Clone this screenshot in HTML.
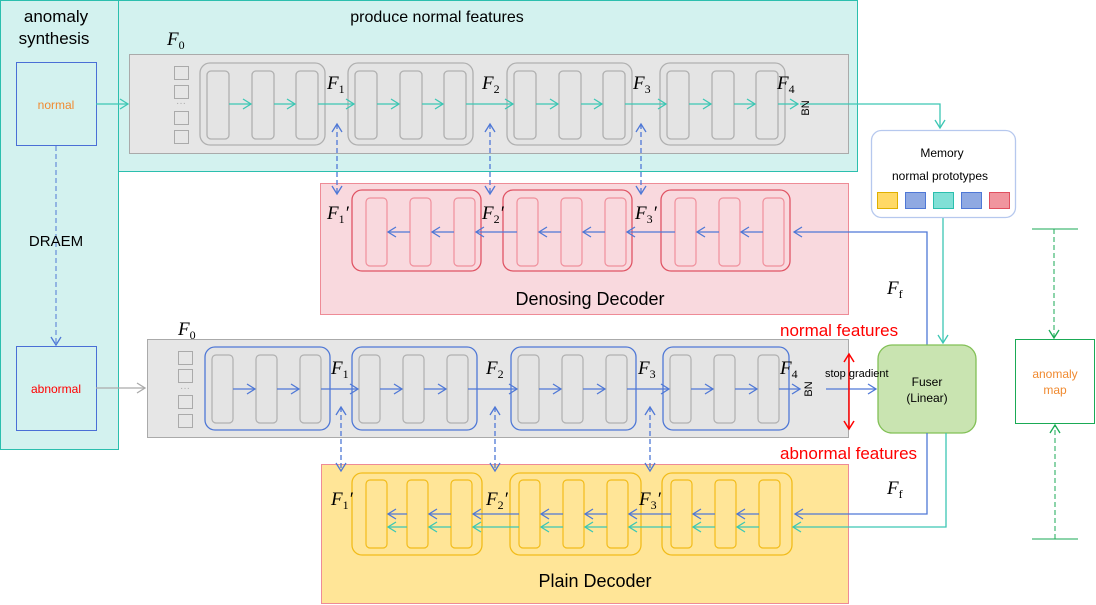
<!DOCTYPE html>
<html><head><meta charset="utf-8"><style>
body{margin:0;background:#fff}
svg{display:block;font-family:"Liberation Sans",sans-serif}
.F{font-family:"Liberation Serif",serif;font-style:italic;font-size:19px}
.s{font-size:12px;font-style:normal}
</style></head><body>
<svg width="1096" height="605" viewBox="0 0 1096 605" xmlns="http://www.w3.org/2000/svg">
<defs>
<marker id="at" markerWidth="12" markerHeight="12" refX="10" refY="6" orient="auto" markerUnits="userSpaceOnUse"><path d="M2,1 L10,6 L2,11" fill="none" stroke="#3cc7b4" stroke-width="1.3"/></marker>
<marker id="ab" markerWidth="12" markerHeight="12" refX="10" refY="6" orient="auto" markerUnits="userSpaceOnUse"><path d="M2,1 L10,6 L2,11" fill="none" stroke="#4f78d6" stroke-width="1.3"/></marker>
<marker id="abr" markerWidth="12" markerHeight="12" refX="10" refY="6" orient="auto-start-reverse" markerUnits="userSpaceOnUse"><path d="M2,1 L10,6 L2,11" fill="none" stroke="#4f78d6" stroke-width="1.3"/></marker>
<marker id="ag" markerWidth="12" markerHeight="12" refX="10" refY="6" orient="auto" markerUnits="userSpaceOnUse"><path d="M2,1 L10,6 L2,11" fill="none" stroke="#aaa" stroke-width="1.3"/></marker>
<marker id="ar" markerWidth="12" markerHeight="12" refX="10" refY="6" orient="auto" markerUnits="userSpaceOnUse"><path d="M2,1 L10,6 L2,11" fill="none" stroke="#f00" stroke-width="1.5"/></marker>
<marker id="agr" markerWidth="12" markerHeight="12" refX="10" refY="6" orient="auto" markerUnits="userSpaceOnUse"><path d="M2,1 L10,6 L2,11" fill="none" stroke="#1aaa55" stroke-width="1.3"/></marker>
</defs>

<rect x="0.5" y="0.5" width="118" height="449" fill="#d3f2ef" stroke="#2bbfae"/>
<rect x="118.5" y="0.5" width="739" height="171" fill="#d3f2ef" stroke="#2bbfae"/>
<text x="56" y="22" font-size="17" text-anchor="middle">anomaly</text>
<text x="54" y="44" font-size="17" text-anchor="middle">synthesis</text>
<text x="437" y="22" font-size="16" text-anchor="middle">produce normal features</text>

<rect x="16.5" y="62.5" width="80" height="83" fill="none" stroke="#4a6fd6"/>
<text x="56" y="109" font-size="12" fill="#f08a30" text-anchor="middle">normal</text>
<rect x="16.5" y="346.5" width="80" height="84" fill="none" stroke="#4a6fd6"/>
<text x="56" y="393" font-size="12" fill="#f00" text-anchor="middle">abnormal</text>
<line x1="56" y1="146" x2="56" y2="345" stroke="#4f78d6" stroke-dasharray="5,3" marker-end="url(#ab)"/>
<text x="56" y="246" font-size="15" text-anchor="middle">DRAEM</text>

<rect x="129.5" y="54.5" width="719" height="99" fill="#e6e6e6" stroke="#aaa"/>
<text class="F" x="167" y="45">F<tspan class="s" dy="4">0</tspan></text>
<g fill="none" stroke="#aaa"><rect x="174.5" y="66.5" width="14" height="13"/><rect x="174.5" y="85.5" width="14" height="13"/><rect x="174.5" y="111.5" width="14" height="13"/><rect x="174.5" y="130.5" width="14" height="13"/></g>
<text x="181" y="106" font-size="10" fill="#aaa" text-anchor="middle">···</text>
<g fill="#e4e4e4" stroke="#b0b0b0" stroke-width="1.3">
<rect x="200" y="63" width="125" height="82" rx="10"/><rect x="207" y="71" width="22" height="68" rx="4"/><rect x="252" y="71" width="22" height="68" rx="4"/><rect x="296" y="71" width="22" height="68" rx="4"/>
<rect x="348" y="63" width="125" height="82" rx="10"/><rect x="355" y="71" width="22" height="68" rx="4"/><rect x="400" y="71" width="22" height="68" rx="4"/><rect x="444" y="71" width="22" height="68" rx="4"/>
<rect x="507" y="63" width="125" height="82" rx="10"/><rect x="514" y="71" width="22" height="68" rx="4"/><rect x="559" y="71" width="22" height="68" rx="4"/><rect x="603" y="71" width="22" height="68" rx="4"/>
<rect x="660" y="63" width="125" height="82" rx="10"/><rect x="667" y="71" width="22" height="68" rx="4"/><rect x="712" y="71" width="22" height="68" rx="4"/><rect x="756" y="71" width="22" height="68" rx="4"/>
</g>
<g stroke="#3cc7b4" stroke-width="1.3" fill="none">
<line x1="96" y1="104" x2="128" y2="104" marker-end="url(#at)"/>
<line x1="229" y1="104" x2="251" y2="104" marker-end="url(#at)"/><line x1="274" y1="104" x2="295" y2="104" marker-end="url(#at)"/><line x1="318" y1="104" x2="354" y2="104" marker-end="url(#at)"/>
<line x1="377" y1="104" x2="399" y2="104" marker-end="url(#at)"/><line x1="422" y1="104" x2="443" y2="104" marker-end="url(#at)"/><line x1="466" y1="104" x2="513" y2="104" marker-end="url(#at)"/>
<line x1="536" y1="104" x2="558" y2="104" marker-end="url(#at)"/><line x1="581" y1="104" x2="602" y2="104" marker-end="url(#at)"/><line x1="625" y1="104" x2="666" y2="104" marker-end="url(#at)"/>
<line x1="689" y1="104" x2="711" y2="104" marker-end="url(#at)"/><line x1="734" y1="104" x2="755" y2="104" marker-end="url(#at)"/><line x1="778" y1="104" x2="798" y2="104" marker-end="url(#at)"/>
<polyline points="800,104 940,104 940,128" marker-end="url(#at)"/>
<polyline points="943,217 943,343" marker-end="url(#at)"/>
</g>
<text x="809" y="108" font-size="11" transform="rotate(-90 809 108)" text-anchor="middle">BN</text>
<text class="F" x="327" y="89">F<tspan class="s" dy="4">1</tspan></text>
<text class="F" x="482" y="89">F<tspan class="s" dy="4">2</tspan></text>
<text class="F" x="633" y="89">F<tspan class="s" dy="4">3</tspan></text>
<text class="F" x="777" y="89">F<tspan class="s" dy="4">4</tspan></text>

<rect x="871.5" y="130.5" width="144" height="87" rx="10" fill="#fff" stroke="#b6c8ee" stroke-width="1.3"/>
<text x="942" y="157" font-size="12" text-anchor="middle">Memory</text>
<text x="940" y="180" font-size="12" text-anchor="middle">normal prototypes</text>
<rect x="877.5" y="192.5" width="20" height="16" fill="#ffd966" stroke="#e0b000"/>
<rect x="905.5" y="192.5" width="20" height="16" fill="#8fa9e2" stroke="#4f78d6"/>
<rect x="933.5" y="192.5" width="20" height="16" fill="#80e0d6" stroke="#2bbfae"/>
<rect x="961.5" y="192.5" width="20" height="16" fill="#8fa9e2" stroke="#4f78d6"/>
<rect x="989.5" y="192.5" width="20" height="16" fill="#f0959e" stroke="#e05060"/>

<rect x="320.5" y="183.5" width="528" height="131" fill="#f9d9de" stroke="#ee8b96"/>
<g fill="#f9d9de" stroke="#e05565" stroke-width="1.3"><rect x="352" y="190" width="129" height="81" rx="10"/><rect x="503" y="190" width="129" height="81" rx="10"/><rect x="661" y="190" width="129" height="81" rx="10"/></g>
<g fill="#f9d9de" stroke="#f0909c" stroke-width="1.2">
<rect x="366" y="198" width="21" height="68" rx="4"/><rect x="410" y="198" width="21" height="68" rx="4"/><rect x="454" y="198" width="21" height="68" rx="4"/>
<rect x="517" y="198" width="21" height="68" rx="4"/><rect x="561" y="198" width="21" height="68" rx="4"/><rect x="605" y="198" width="21" height="68" rx="4"/>
<rect x="675" y="198" width="21" height="68" rx="4"/><rect x="719" y="198" width="21" height="68" rx="4"/><rect x="763" y="198" width="21" height="68" rx="4"/>
</g>
<g stroke="#4f78d6" stroke-width="1.3" fill="none">
<polyline points="927,345 927,232 794,232" marker-end="url(#ab)"/>
<line x1="763" y1="232" x2="741" y2="232" marker-end="url(#ab)"/><line x1="719" y1="232" x2="697" y2="232" marker-end="url(#ab)"/><line x1="675" y1="232" x2="627" y2="232" marker-end="url(#ab)"/>
<line x1="605" y1="232" x2="583" y2="232" marker-end="url(#ab)"/><line x1="561" y1="232" x2="539" y2="232" marker-end="url(#ab)"/><line x1="517" y1="232" x2="476" y2="232" marker-end="url(#ab)"/>
<line x1="454" y1="232" x2="432" y2="232" marker-end="url(#ab)"/><line x1="410" y1="232" x2="388" y2="232" marker-end="url(#ab)"/>
</g>
<text class="F" x="327" y="219">F<tspan class="s" dy="4">1</tspan><tspan dy="-4">′</tspan></text>
<text class="F" x="482" y="219">F<tspan class="s" dy="4">2</tspan><tspan dy="-4">′</tspan></text>
<text class="F" x="635" y="219">F<tspan class="s" dy="4">3</tspan><tspan dy="-4">′</tspan></text>
<text x="590" y="305" font-size="18" text-anchor="middle">Denosing Decoder</text>
<text class="F" x="887" y="294">F<tspan class="s" dy="4">f</tspan></text>

<rect x="147.5" y="339.5" width="701" height="98" fill="#e6e6e6" stroke="#aaa"/>
<text class="F" x="178" y="335">F<tspan class="s" dy="4">0</tspan></text>
<line x1="96" y1="388" x2="145" y2="388" stroke="#aaa" stroke-width="1.3" marker-end="url(#ag)"/>
<g fill="none" stroke="#aaa"><rect x="178.5" y="351.5" width="14" height="13"/><rect x="178.5" y="369.5" width="14" height="13"/><rect x="178.5" y="395.5" width="14" height="13"/><rect x="178.5" y="414.5" width="14" height="13"/></g>
<text x="185" y="391" font-size="10" fill="#aaa" text-anchor="middle">···</text>
<g fill="#e4e4e4" stroke="#4f78d6" stroke-width="1.3"><rect x="205" y="347" width="125" height="83" rx="10"/><rect x="352" y="347" width="125" height="83" rx="10"/><rect x="511" y="347" width="125" height="83" rx="10"/><rect x="663" y="347" width="126" height="83" rx="10"/></g>
<g fill="#e4e4e4" stroke="#b0b0b0" stroke-width="1.2">
<rect x="212" y="355" width="21" height="68" rx="4"/><rect x="256" y="355" width="21" height="68" rx="4"/><rect x="300" y="355" width="21" height="68" rx="4"/>
<rect x="359" y="355" width="21" height="68" rx="4"/><rect x="403" y="355" width="21" height="68" rx="4"/><rect x="447" y="355" width="21" height="68" rx="4"/>
<rect x="518" y="355" width="21" height="68" rx="4"/><rect x="562" y="355" width="21" height="68" rx="4"/><rect x="606" y="355" width="21" height="68" rx="4"/>
<rect x="670" y="355" width="21" height="68" rx="4"/><rect x="714" y="355" width="21" height="68" rx="4"/><rect x="758" y="355" width="21" height="68" rx="4"/>
</g>
<g stroke="#4f78d6" stroke-width="1.3" fill="none">
<line x1="233" y1="389" x2="255" y2="389" marker-end="url(#ab)"/><line x1="277" y1="389" x2="299" y2="389" marker-end="url(#ab)"/><line x1="321" y1="389" x2="358" y2="389" marker-end="url(#ab)"/>
<line x1="380" y1="389" x2="402" y2="389" marker-end="url(#ab)"/><line x1="424" y1="389" x2="446" y2="389" marker-end="url(#ab)"/><line x1="468" y1="389" x2="517" y2="389" marker-end="url(#ab)"/>
<line x1="539" y1="389" x2="561" y2="389" marker-end="url(#ab)"/><line x1="583" y1="389" x2="605" y2="389" marker-end="url(#ab)"/><line x1="627" y1="389" x2="669" y2="389" marker-end="url(#ab)"/>
<line x1="691" y1="389" x2="713" y2="389" marker-end="url(#ab)"/><line x1="735" y1="389" x2="757" y2="389" marker-end="url(#ab)"/><line x1="779" y1="389" x2="800" y2="389" marker-end="url(#ab)"/>
<line x1="826" y1="389" x2="876" y2="389" marker-end="url(#ab)"/>
</g>
<text x="812" y="389" font-size="11" transform="rotate(-90 812 389)" text-anchor="middle">BN</text>
<text class="F" x="331" y="374">F<tspan class="s" dy="4">1</tspan></text>
<text class="F" x="486" y="374">F<tspan class="s" dy="4">2</tspan></text>
<text class="F" x="638" y="374">F<tspan class="s" dy="4">3</tspan></text>
<text class="F" x="780" y="374">F<tspan class="s" dy="4">4</tspan></text>
<line x1="849" y1="390" x2="849" y2="354" stroke="#f00" stroke-width="1.5" marker-end="url(#ar)"/>
<line x1="849" y1="390" x2="849" y2="429" stroke="#f00" stroke-width="1.5" marker-end="url(#ar)"/>
<text x="780" y="336" font-size="17" fill="#f00">normal features</text>
<text x="780" y="459" font-size="17" fill="#f00">abnormal features</text>

<rect x="878" y="345" width="98" height="88" rx="14" fill="#c9e4b1" stroke="#82c056" stroke-width="1.3"/>
<text x="927" y="386" font-size="12" text-anchor="middle">Fuser</text>
<text x="927" y="402" font-size="12" text-anchor="middle">(Linear)</text>
<text x="825" y="377" font-size="11">stop gradient</text>
<text class="F" x="887" y="494">F<tspan class="s" dy="4">f</tspan></text>

<rect x="1015.5" y="339.5" width="79" height="84" fill="#fff" stroke="#1aaa55"/>
<text x="1055" y="378" font-size="12" fill="#f08a30" text-anchor="middle">anomaly</text>
<text x="1055" y="394" font-size="12" fill="#f08a30" text-anchor="middle">map</text>
<line x1="1032" y1="229" x2="1078" y2="229" stroke="#1aaa55"/>
<line x1="1032" y1="539" x2="1078" y2="539" stroke="#1aaa55"/>
<line x1="1054" y1="229" x2="1054" y2="338" stroke="#1aaa55" stroke-dasharray="5,3" marker-end="url(#agr)"/>
<line x1="1055" y1="539" x2="1055" y2="425" stroke="#1aaa55" stroke-dasharray="5,3" marker-end="url(#agr)"/>

<rect x="321.5" y="464.5" width="527" height="139" fill="#ffe597" stroke="#ee8b96"/>
<g fill="#ffe597" stroke="#f2bc1b" stroke-width="1.3"><rect x="352" y="473" width="130" height="82" rx="10"/><rect x="510" y="473" width="131" height="82" rx="10"/><rect x="662" y="473" width="130" height="82" rx="10"/></g>
<g fill="#ffe597" stroke="#f2bc1b" stroke-width="1.2">
<rect x="366" y="480" width="21" height="68" rx="4"/><rect x="407" y="480" width="21" height="68" rx="4"/><rect x="451" y="480" width="21" height="68" rx="4"/>
<rect x="519" y="480" width="21" height="68" rx="4"/><rect x="563" y="480" width="21" height="68" rx="4"/><rect x="607" y="480" width="21" height="68" rx="4"/>
<rect x="671" y="480" width="21" height="68" rx="4"/><rect x="715" y="480" width="21" height="68" rx="4"/><rect x="759" y="480" width="21" height="68" rx="4"/>
</g>
<g stroke="#4f78d6" stroke-width="1.3" fill="none">
<polyline points="927,433 927,514 795,514" marker-end="url(#ab)"/>
<line x1="759" y1="514" x2="737" y2="514" marker-end="url(#ab)"/><line x1="715" y1="514" x2="693" y2="514" marker-end="url(#ab)"/><line x1="671" y1="514" x2="629" y2="514" marker-end="url(#ab)"/>
<line x1="607" y1="514" x2="585" y2="514" marker-end="url(#ab)"/><line x1="563" y1="514" x2="541" y2="514" marker-end="url(#ab)"/><line x1="519" y1="514" x2="473" y2="514" marker-end="url(#ab)"/>
<line x1="451" y1="514" x2="429" y2="514" marker-end="url(#ab)"/><line x1="407" y1="514" x2="388" y2="514" marker-end="url(#ab)"/>
</g>
<g stroke="#3cc7b4" stroke-width="1.3" fill="none">
<polyline points="946,433 946,527 793,527" marker-end="url(#at)"/>
<line x1="759" y1="527" x2="737" y2="527" marker-end="url(#at)"/><line x1="715" y1="527" x2="693" y2="527" marker-end="url(#at)"/><line x1="671" y1="527" x2="629" y2="527" marker-end="url(#at)"/>
<line x1="607" y1="527" x2="585" y2="527" marker-end="url(#at)"/><line x1="563" y1="527" x2="541" y2="527" marker-end="url(#at)"/><line x1="519" y1="527" x2="473" y2="527" marker-end="url(#at)"/>
<line x1="451" y1="527" x2="429" y2="527" marker-end="url(#at)"/><line x1="407" y1="527" x2="388" y2="527" marker-end="url(#at)"/>
</g>
<text class="F" x="331" y="505">F<tspan class="s" dy="4">1</tspan><tspan dy="-4">′</tspan></text>
<text class="F" x="486" y="505">F<tspan class="s" dy="4">2</tspan><tspan dy="-4">′</tspan></text>
<text class="F" x="639" y="505">F<tspan class="s" dy="4">3</tspan><tspan dy="-4">′</tspan></text>
<text x="595" y="587" font-size="18" text-anchor="middle">Plain Decoder</text>

<g stroke="#4f78d6" stroke-width="1.3" stroke-dasharray="5,3" fill="none">
<line x1="337" y1="124" x2="337" y2="194" marker-start="url(#abr)" marker-end="url(#abr)"/>
<line x1="490" y1="124" x2="490" y2="194" marker-start="url(#abr)" marker-end="url(#abr)"/>
<line x1="641" y1="124" x2="641" y2="194" marker-start="url(#abr)" marker-end="url(#abr)"/>
<line x1="341" y1="407" x2="341" y2="471" marker-start="url(#abr)" marker-end="url(#abr)"/>
<line x1="495" y1="407" x2="495" y2="471" marker-start="url(#abr)" marker-end="url(#abr)"/>
<line x1="650" y1="407" x2="650" y2="471" marker-start="url(#abr)" marker-end="url(#abr)"/>
</g>
</svg>
</body></html>
